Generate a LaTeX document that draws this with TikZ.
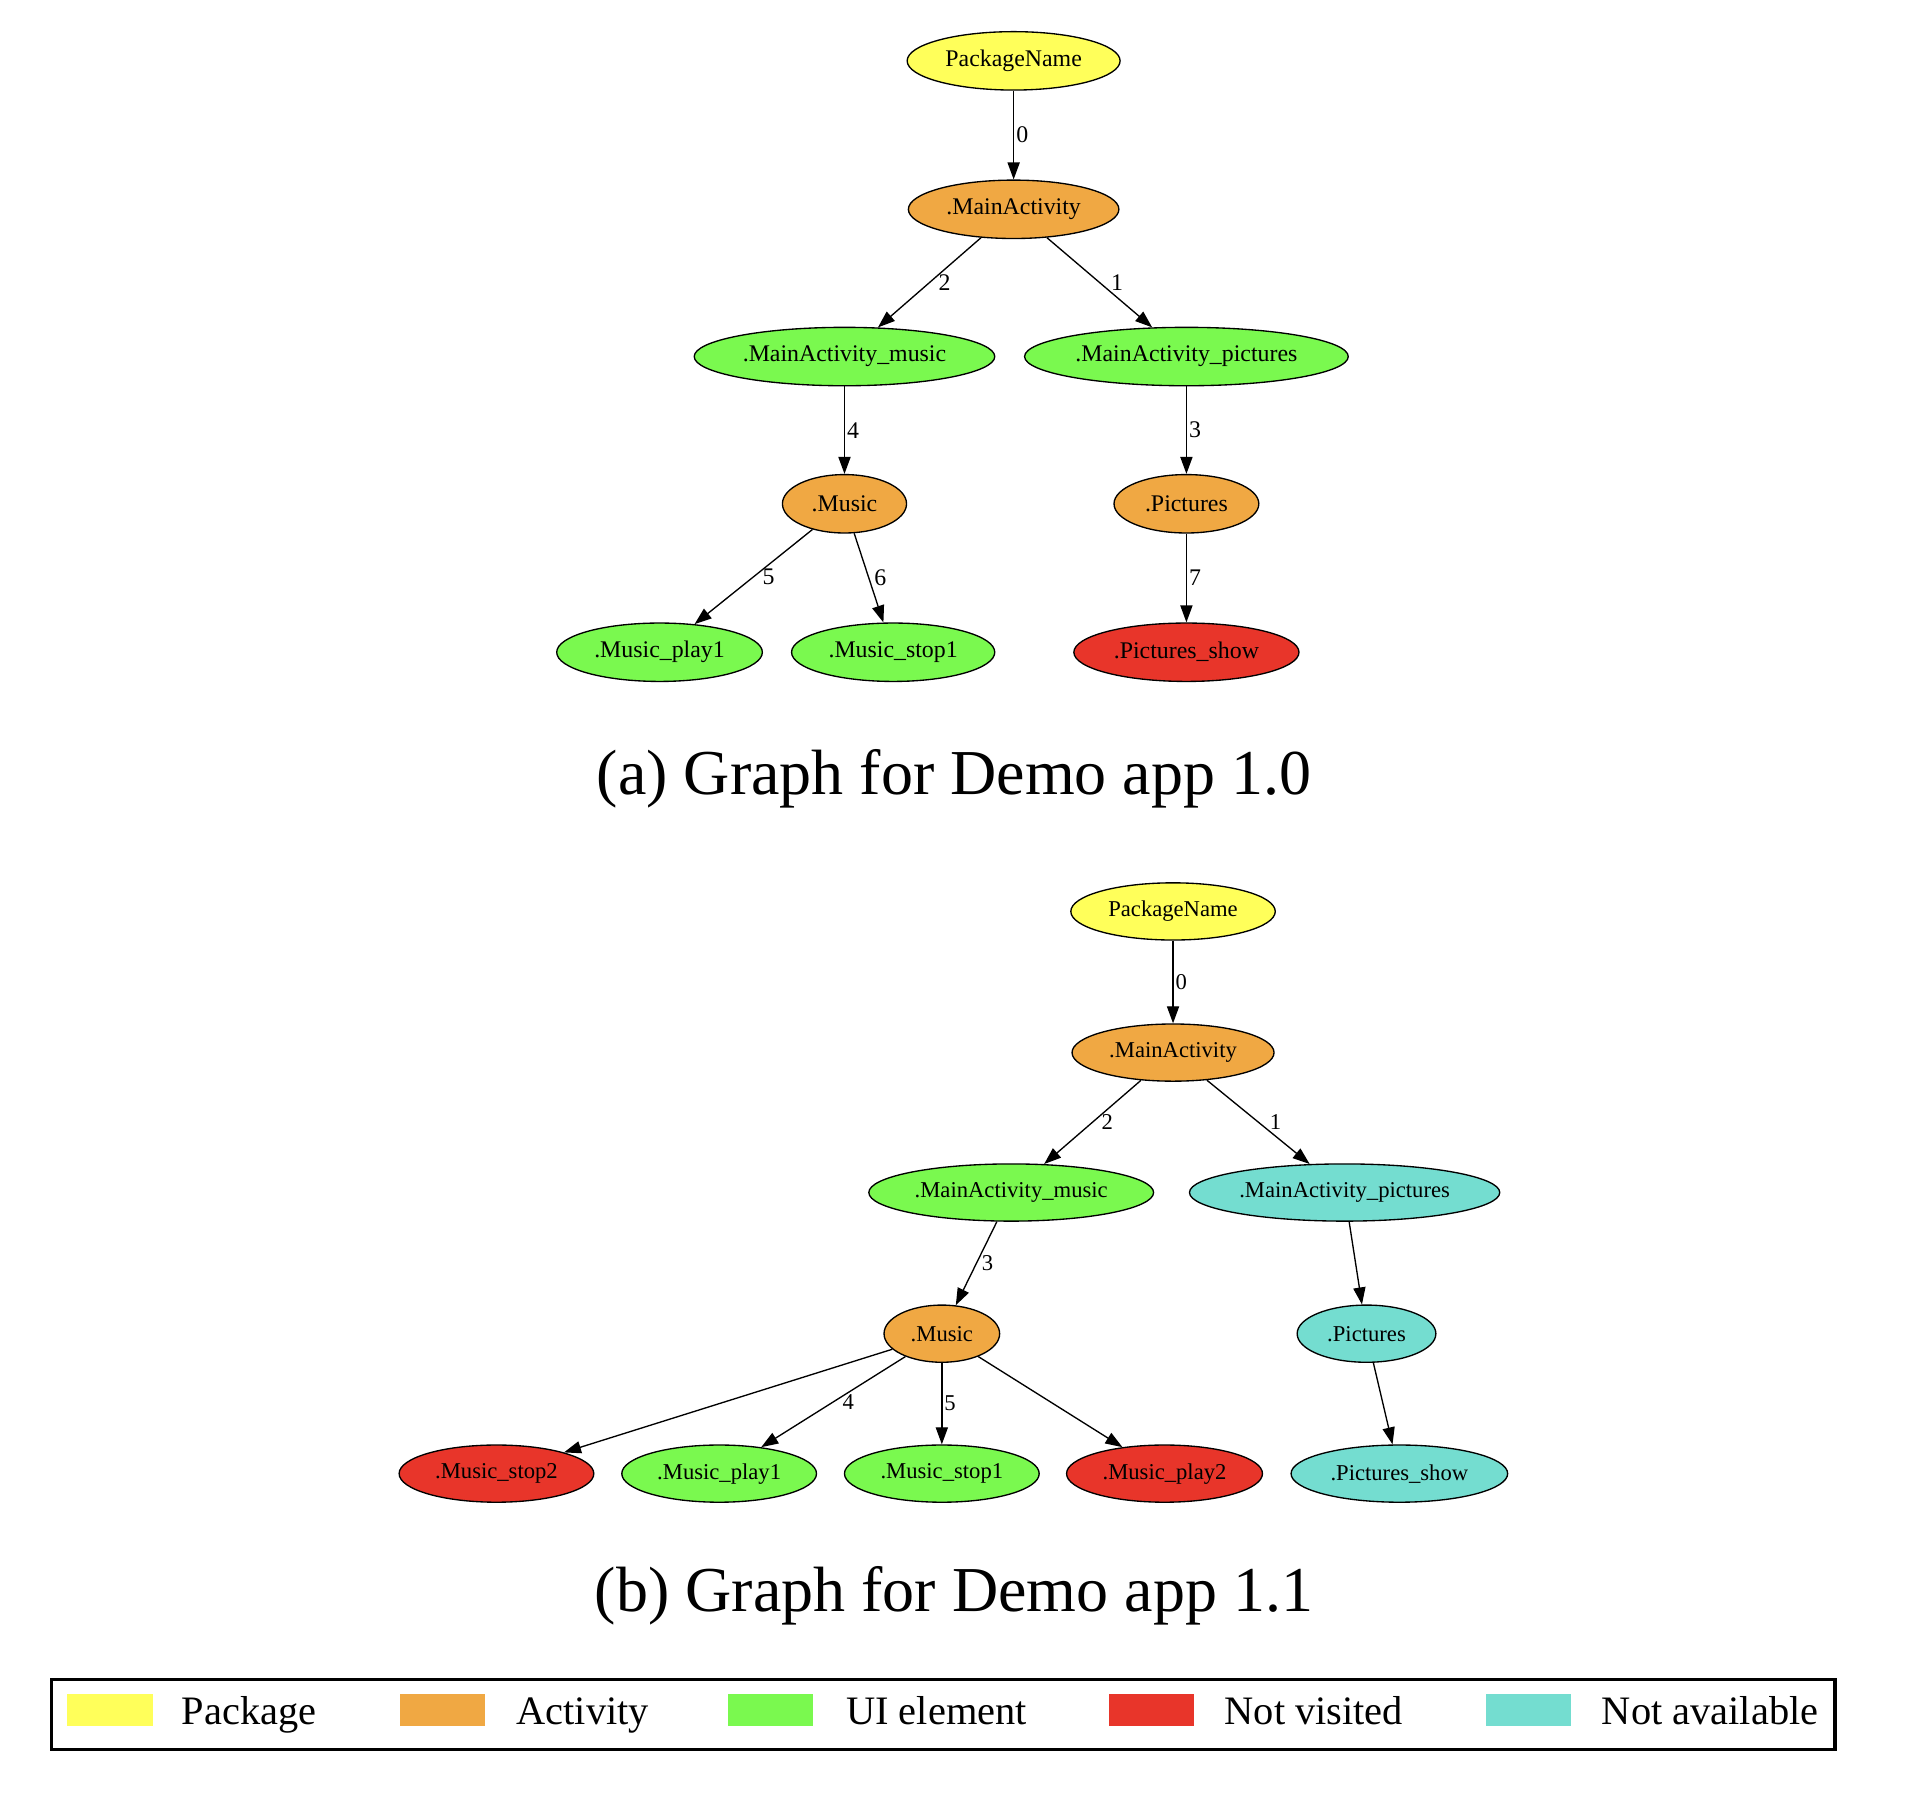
\documentclass[tikz,border=0pt]{standalone}
\usepackage{fontspec}
\setmainfont{Liberation Serif}
\usetikzlibrary{shapes.geometric,arrows.meta}
\definecolor{cPkg}{HTML}{FFFF5A}
\definecolor{cAct}{HTML}{F0A843}
\definecolor{cUI}{HTML}{7AF94F}
\definecolor{cNV}{HTML}{E8352A}
\definecolor{cNA}{HTML}{74DDD0}
\tikzset{
  gn/.style 2 args={ellipse, draw, line width=0.55pt, fill=#1, minimum width=#2,
    minimum height=24pt, inner sep=0pt, font=\fontsize{9.8}{11}\selectfont},
  gb/.style={minimum height=23.5pt, font=\fontsize{9.3}{11}\selectfont},
  conn/.style={line width=0.55pt, -{Triangle[length=7pt,width=5pt]}},
  el/.style={midway, anchor=west, inner sep=0pt, font=\fontsize{9.8}{11}\selectfont},
  elb/.style={midway, anchor=west, inner sep=0pt, font=\fontsize{9.3}{11}\selectfont},
  captxt/.style={font=\fontsize{26.3}{30}\selectfont, inner sep=0pt},
  legtxt/.style={anchor=base west, inner sep=0pt, font=\fontsize{16.6}{19}\selectfont},
  swatch/.style={draw=none, inner sep=0pt, minimum width=35pt, minimum height=13pt, anchor=north west}
}
\begin{document}
\begin{tikzpicture}[x=0.5pt, y=-0.5pt]
\useasboundingbox (0,0) rectangle (1568,1495.6);
% ---------- graph (a) ----------
\node[gn={cPkg}{87.5pt}] (pa) at (833,50) {PackageName};
\node[gn={cAct}{86.5pt}] (maa) at (833,172) {.MainActivity};
\node[gn={cUI}{123.5pt}] (mma) at (694,293) {.MainActivity\_music};
\node[gn={cUI}{133pt}] (mpa) at (975,293) {.MainActivity\_pictures};
\node[gn={cAct}{51pt}] (mua) at (694,414) {.Music};
\node[gn={cAct}{59.5pt}] (pia) at (975,414) {.Pictures};
\node[gn={cUI}{84.5pt}] (p1a) at (542,536) {.Music\_play1};
\node[gn={cUI}{83.5pt}] (s1a) at (734,536) {.Music\_stop1};
\node[gn={cNV}{92.5pt}] (psa) at (975,536) {.Pictures\_show};
\draw[conn] (pa) -- (maa) node[el, xshift=0.8pt] (la0) {0};
\draw[conn] (maa) -- (mma) node[el, xshift=3.5pt] (la2) {2};
\draw[conn] (maa) -- (mpa) node[el, xshift=4.5pt] (la1) {1};
\draw[conn] (mma) -- (mua) node[el, xshift=0.8pt] (la4) {4};
\draw[conn] (mpa) -- (pia) node[el, xshift=0.8pt] (la3) {3};
\draw[conn] (mua) -- (p1a) node[el, xshift=3.5pt] (la5) {5};
\draw[conn] (mua) -- (s1a) node[el, xshift=2pt] (la6) {6};
\draw[conn] (pia) -- (psa) node[el, xshift=0.8pt] (la7) {7};
\node[captxt] (capa) at (784,640) {(a) Graph for Demo app 1.0};
% ---------- graph (b) ----------
\node[gn={cPkg}{84pt}, gb] (pb) at (964,749) {PackageName};
\node[gn={cAct}{83pt}, gb] (mab) at (964,865) {.MainActivity};
\node[gn={cUI}{117pt}, gb] (mmb) at (831,980) {.MainActivity\_music};
\node[gn={cNA}{127.5pt}, gb] (mpb) at (1105,980) {.MainActivity\_pictures};
\node[gn={cAct}{47.5pt}, gb] (mub) at (774,1096) {.Music};
\node[gn={cNA}{57pt}, gb] (pib) at (1123,1096) {.Pictures};
\node[gn={cNV}{80pt}, gb] (s2b) at (408,1211) {.Music\_stop2};
\node[gn={cUI}{80pt}, gb] (p1b) at (591,1211) {.Music\_play1};
\node[gn={cUI}{80pt}, gb] (s1b) at (774,1211) {.Music\_stop1};
\node[gn={cNV}{80.5pt}, gb] (p2b) at (957,1211) {.Music\_play2};
\node[gn={cNA}{89pt}, gb] (psb) at (1150,1211) {.Pictures\_show};
\draw[conn] (pb) -- (mab) node[elb, xshift=0.8pt] (lb0) {0};
\draw[conn] (mab) -- (mmb) node[elb, xshift=3.5pt] (lb2) {2};
\draw[conn] (mab) -- (mpb) node[elb, xshift=4.5pt] (lb1) {1};
\draw[conn] (mmb) -- (mub) node[elb, xshift=2pt] (lb3) {3};
\draw[conn] (mpb) -- (pib);
\draw[conn] (mub) -- (s2b);
\draw[conn] (mub) -- (p1b) node[elb, xshift=3.5pt] (lb4) {4};
\draw[conn] (mub) -- (s1b) node[elb, xshift=0.8pt] (lb5) {5};
\draw[conn] (mub) -- (p2b);
\draw[conn] (pib) -- (psb);
\node[captxt] (capb) at (784,1311) {(b) Graph for Demo app 1.1};
% ---------- legend ----------
\draw[line width=1.3pt] (42,1380) rectangle (1508,1438);
\node[swatch, fill=cPkg] (sw1) at (55,1392) {};
\node[swatch, fill=cAct] (sw2) at (328,1392) {};
\node[swatch, fill=cUI] (sw3) at (598,1392) {};
\node[swatch, fill=cNV] (sw4) at (911,1392) {};
\node[swatch, fill=cNA] (sw5) at (1221,1392) {};
\node[legtxt] (lt1) at (149,1417.5) {Package};
\node[legtxt] (lt2) at (424,1417.5) {Activity};
\node[legtxt] (lt3) at (695,1417.5) {UI element};
\node[legtxt] (lt4) at (1006,1417.5) {Not visited};
\node[legtxt] (lt5) at (1316,1417.5) {Not available};
\end{tikzpicture}
\end{document}
